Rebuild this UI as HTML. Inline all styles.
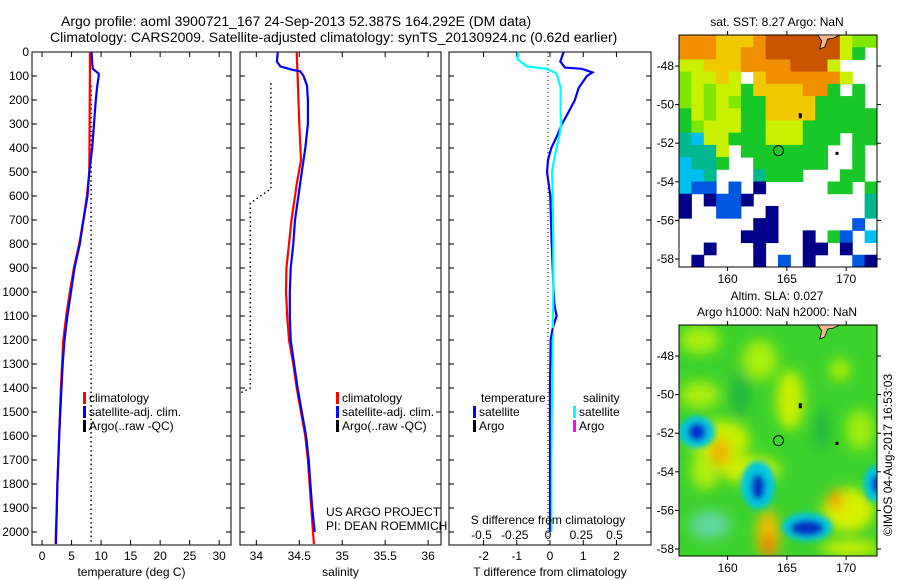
<!DOCTYPE html>
<html><head><meta charset="utf-8"><style>
html,body{margin:0;padding:0;background:#fff;}
svg{display:block;font-family:"Liberation Sans",sans-serif;}
</style></head><body>
<svg id="fig" width="900" height="580" viewBox="0 0 900 580">
<defs>
<filter id="blur6" x="-50%" y="-50%" width="200%" height="200%"><feGaussianBlur stdDeviation="6"/></filter>
<filter id="blur3" x="-50%" y="-50%" width="200%" height="200%"><feGaussianBlur stdDeviation="3"/></filter>
<clipPath id="clipSla"><rect x="679" y="325" width="198" height="231"/></clipPath>
</defs>
<text x="61" y="26" font-size="14">Argo profile: aoml 3900721_167 24-Sep-2013 52.387S 164.292E (DM data)</text>
<text x="50" y="42" font-size="14">Climatology: CARS2009. Satellite-adjusted climatology: synTS_20130924.nc (0.62d earlier)</text>
<g id="plots"></g>
</svg>
<script>
// ---------- data ----------
const depthsT = [0,100,500,600,700,800,900,1000,1100,1200,1300,1400,1500,1600,1700,1800,1900,2000,2050];
const tempClim = [8.1,8.1,8.0,7.6,7.0,6.3,5.4,4.7,4.1,3.6,3.4,3.2,3.05,2.9,2.75,2.6,2.5,2.35,2.3];
const depthsTs = [0,50,70,90,100,150,200,300,400,500,600,700,800,900,1000,1100,1200,1300,1400,1500,1600,1700,1800,1900,2000,2050];
const tempSat = [8.4,8.5,8.6,9.6,9.6,9.3,9.1,8.8,8.5,8.0,7.7,7.0,6.4,5.5,4.9,4.3,3.8,3.5,3.3,3.1,2.9,2.75,2.6,2.5,2.4,2.35];
const depthsArgoT = [140,2055];
const tempArgo = [8.3,8.3];

const depthsS = [0,100,300,450,550,600,700,800,900,1000,1100,1200,1300,1400,1500,1600,1700,1800,1900,2000,2050];
const salClim = [34.47,34.48,34.50,34.52,34.47,34.45,34.41,34.38,34.35,34.345,34.36,34.38,34.43,34.47,34.52,34.57,34.60,34.62,34.64,34.66,34.67];
const depthsSs = [0,40,60,75,80,100,140,200,300,400,500,600,700,800,900,1000,1100,1200,1300,1400,1500,1600,1700,1800,1900,2000];
const salSat = [34.25,34.24,34.28,34.43,34.51,34.55,34.59,34.60,34.60,34.57,34.53,34.49,34.45,34.43,34.40,34.39,34.39,34.40,34.44,34.48,34.53,34.58,34.61,34.63,34.65,34.68];
const depthsArgoS = [130,570,630,1400,1420];
const salArgo = [34.17,34.17,33.93,33.93,33.82];

const depthsDT = [0,40,65,70,85,100,150,200,250,300,350,400,450,500,550,600,700,800,900,1000,1050,1100,1150,1200,1400,1600,1800,2000];
const tDiffSat = [0.41,0.31,0.45,0.96,1.28,1.11,0.86,0.75,0.56,0.36,0.21,0.04,-0.06,-0.09,-0.04,0.01,0.03,0.05,0.08,0.11,0.13,0.2,0.08,0.02,0.0,0.0,0.0,0.0];
const depthsDS = [0,30,60,70,90,150,250,300,350,400,450,500,600,800,1000,1400,1700,2000];
const sDiffSat = [-0.22,-0.23,-0.16,-0.01,0.065,0.095,0.095,0.10,0.085,0.065,0.045,0.03,0.035,0.04,0.04,0.03,0.025,0.025];

const tempTicks = [0,5,10,15,20,25,30];
const salTicks = [34,34.5,35,35.5,36];
const tDiffTicks = [-2,-1,0,1,2];
const sDiffTicks = [-0.5,-0.25,0,0.25,0.5];
const depthTicks = [0,100,200,300,400,500,600,700,800,900,1000,1100,1200,1300,1400,1500,1600,1700,1800,1900,2000];
const latTicks = [-48,-50,-52,-54,-56,-58];
const lonTicks = [160,165,170];

// SST map grid (rows N->S, cols W->E)
const sstGrid = [
"oooyyyoOOOOOOYgg",
"oooyyooOOOOOOYG.",
"YYyyyooooOOOY...",
"gYYyY.yooooooY..",
"gYgYYGyyyyooG.G.",
"gYgYgGGyyyyGGGG.",
"GYgYYGGyyyyGGGGG",
"GgYYYGGYYYGGGGGG",
"tcYYGGGYYYGGG.GG",
"tttY.GGGGGGG..G.",
"cttG..GGGGGG..G.",
"cct...tGGG...GG.",
"cbb.b.d.....GG.G",
"d.dbbd.........t",
"d..bb..d.......t",
"......dd......b.",
".....ddd..d.Gb.c",
"..d...d...dd.d..",
".d....d.b.d...bd"
];
// ---------- helpers ----------
const NS='http://www.w3.org/2000/svg';
const root=document.getElementById('plots');
function mk(tag,attrs,parent){const e=document.createElementNS(NS,tag);for(const k in attrs)e.setAttribute(k,attrs[k]);(parent||root).appendChild(e);return e;}
const Y0=52, PXPER=0.24;
function yD(d){return Y0+d*PXPER;}
const BOT=545;

function panel(name,x0,x1,xMin,xMax,xTicks,xlabel,showDepth){
  const sx=v=>x0+(v-xMin)/(xMax-xMin)*(x1-x0);
  const g=mk('g',{});
  
  
  const fr=mk('rect',{x:x0,y:Y0,width:x1-x0,height:BOT-Y0,fill:'none',stroke:'#000','stroke-width':1},g);
  
  
  xTicks.forEach(v=>{
    const x=sx(v);
    mk('line',{x1:x,x2:x,y1:BOT,y2:BOT-5,stroke:'#000'},g);
    mk('line',{x1:x,x2:x,y1:Y0,y2:Y0+5,stroke:'#000'},g);
    const t=mk('text',{x:x,y:BOT+15,'font-size':12,'text-anchor':'middle'},g);
    t.textContent=String(v);
    
    
  });
  depthTicks.forEach(d=>{
    const y=yD(d);
    mk('line',{x1:x0,x2:x0+5,y1:y,y2:y,stroke:'#000'},g);
    mk('line',{x1:x1,x2:x1-5,y1:y,y2:y,stroke:'#000'},g);
    if(showDepth){
      const t=mk('text',{x:x0-3,y:y+4,'font-size':12,'text-anchor':'end'},g);
      t.textContent=String(d);
      
      
    }
  });
  if(xlabel){
    const t=mk('text',{x:(x0+x1)/2,y:576,'font-size':12,'text-anchor':'middle'},g);
    t.textContent=xlabel;
    
    
  }
  return {g,sx};
}
function line(p,name,xs,ds,color,dash,w){
  const pts=xs.map((v,i)=>p.sx(v).toFixed(1)+','+yD(ds[i]).toFixed(1)).join(' ');
  const a={points:pts,fill:'none',stroke:color,'stroke-width':w||2.2};
  if(dash)a['stroke-dasharray']=dash;
  const e=mk('polyline',a,p.g);
  
  
}
function legendEntry(g,x,y,color,label,name){
  mk('rect',{x:x,y:y-10,width:3,height:12,fill:color},g);
  const t=mk('text',{x:x+6,y:y,'font-size':12},g);
  t.textContent=label;
  
  
}
// ---------- temperature ----------
const pT=panel('temperature-panel',32,231,-1.7,32,tempTicks,'temperature (deg C)',true);
line(pT,'temp-argo-line',tempArgo,depthsArgoT,'#000','1.5 3',1.5);
line(pT,'temp-climatology-line',tempClim,depthsT,'#f00');
line(pT,'temp-satellite-line',tempSat,depthsTs,'#00f');
legendEntry(pT.g,83,402,'#f00','climatology','legend-climatology');
legendEntry(pT.g,83,416,'#00f','satellite-adj. clim.','legend-satellite');
legendEntry(pT.g,83,430,'#000','Argo(..raw -QC)','legend-argo');
// ---------- salinity ----------
const pS=panel('salinity-panel',240,441,33.81,36.15,salTicks,'salinity',false);
line(pS,'sal-argo-line',salArgo,depthsArgoS,'#000','1.5 3',1.5);
line(pS,'sal-climatology-line',salClim,depthsS,'#f00');
line(pS,'sal-satellite-line',salSat,depthsSs,'#00f');
legendEntry(pS.g,336,402,'#f00','climatology','legend-climatology');
legendEntry(pS.g,336,416,'#00f','satellite-adj. clim.','legend-satellite');
legendEntry(pS.g,336,430,'#000','Argo(..raw -QC)','legend-argo');
[['US ARGO PROJECT',516],['PI: DEAN ROEMMICH',530]].forEach(([s,y])=>{
  const t=mk('text',{x:326,y:y,'font-size':12},pS.g);
  t.textContent=s;
  
  
});
// ---------- difference ----------
const pD=panel('difference-panel',449,651,-3.04,3.04,tDiffTicks,'T difference from climatology',false);
const sxS=v=>548+v*133;
mk('line',{x1:548,x2:548,y1:Y0,y2:BOT,stroke:'#000','stroke-width':1,'stroke-dasharray':'1 3'},pD.g);
line(pD,'t-diff-satellite-line',tDiffSat,depthsDT,'#00f');
(function(){
  const pts=sDiffSat.map((v,i)=>sxS(v).toFixed(1)+','+yD(depthsDS[i]).toFixed(1)).join(' ');
  const e=mk('polyline',{points:pts,fill:'none',stroke:'#0ff','stroke-width':2.2},pD.g);
  
  
})();
// redraw blue on top in deep part
line(pD,'t-diff-satellite-line-top',tDiffSat.slice(22),depthsDT.slice(22),'#00f',null,1.6);
sDiffTicks.forEach(v=>{
  const t=mk('text',{x:sxS(v),y:539,'font-size':12,'text-anchor':'middle'},pD.g);
  t.textContent=String(v);
  
  
});
(function(){
  const t=mk('text',{x:548,y:524,'font-size':12,'text-anchor':'middle'},pD.g);
  t.textContent='S difference from climatology';
  
  
  const a=mk('text',{x:481,y:402,'font-size':12},pD.g);a.textContent='temperature';
  
  
  const b=mk('text',{x:583,y:402,'font-size':12},pD.g);b.textContent='salinity';
  
  
})();
legendEntry(pD.g,473,416,'#00f','satellite','legend-t-satellite');
legendEntry(pD.g,473,430,'#000','Argo','legend-t-argo');
legendEntry(pD.g,573,416,'#0ff','satellite','legend-s-satellite');
legendEntry(pD.g,573,430,'#f0f','Argo','legend-s-argo');

// ---------- maps ----------
const MX0=679,MX1=877,LON0=155.9,LON1=172.6;
const lonX=l=>MX0+(l-LON0)/(LON1-LON0)*(MX1-MX0);
function mapAxes(name,top,bot,lat48y,title){
  const g=mk('g',{});
  
  
  const latY=l=>lat48y+(-48-l)*19.3;
  latTicks.forEach(l=>{
    const y=latY(l);
    mk('line',{x1:MX0-4,x2:MX0,y1:y,y2:y,stroke:'#000'},g);
    mk('line',{x1:MX1,x2:MX1+4,y1:y,y2:y,stroke:'#000'},g);
    const t=mk('text',{x:MX0-5,y:y+4,'font-size':12,'text-anchor':'end'},g);
    t.textContent=String(l);
    
    
  });
  lonTicks.forEach(l=>{
    const x=lonX(l);
    mk('line',{x1:x,x2:x,y1:top-4,y2:top,stroke:'#000'},g);
    mk('line',{x1:x,x2:x,y1:bot,y2:bot+4,stroke:'#000'},g);
    const t=mk('text',{x:x,y:bot+16,'font-size':12,'text-anchor':'middle'},g);
    t.textContent=String(l);
    
    
  });
  const fr=mk('rect',{x:MX0,y:top,width:MX1-MX0,height:bot-top,fill:'none',stroke:'#000'},g);
  
  
  // profile location circle
  const c=mk('circle',{cx:lonX(164.292),cy:latY(-52.387),r:5,fill:'none',stroke:'#000'},g);
  
  
  // islands
  mk('rect',{x:lonX(166.0),y:latY(-50.6)-3,width:3,height:5,fill:'#000'},g);
  mk('rect',{x:lonX(169.1),y:latY(-52.5)-1,width:3,height:3,fill:'#000'},g);
  mk('path',{d:`M${lonX(167.6)} ${top} l4 6 l-2 8 l5 -2 l3 -8 l6 -1 l6 -3 z`,fill:'#f4b890',stroke:'#000','stroke-width':0.8},g);
  return {g,latY};
}
// SST map
(function(){
  const top=35,bot=267;
  const cols={O:'#c85400',o:'#f09000',y:'#f0c800',Y:'#c8f000',g:'#80e800',G:'#18c828',t:'#00b890',c:'#00c0f0',b:'#0058e0',d:'#000088'};
  const g=mk('g',{});
  
  
  const cw=(MX1-MX0)/16,ch=(bot-top)/sstGrid.length;
  sstGrid.forEach((row,r)=>{for(let c=0;c<row.length;c++){const k=row[c];if(cols[k])mk('rect',{x:MX0+c*cw,y:top+r*ch,width:cw+0.5,height:ch+0.5,fill:cols[k]},g);}});
  mapAxes('sst-map',top,bot,66,'');
  const t=mk('text',{x:777,y:26,'font-size':12,'text-anchor':'middle'});
  t.textContent='sat. SST: 8.27 Argo: NaN';
  
  
})();
// SLA map
(function(){
  const top=325,bot=556;
  const g=mk('g',{'clip-path':'url(#clipSla)'});
  
  
  mk('rect',{x:MX0,y:top,width:MX1-MX0,height:bot-top,fill:'#3cd22c'},g);
  const fg=mk('g',{filter:'url(#blur6)'},g);
  const blobs=[
    [700,340,20,14,'#a8ee10'],[760,360,18,20,'#a8ee10'],[790,400,14,30,'#c8f000'],[720,440,30,20,'#c8f000'],
    [750,470,30,14,'#d0f000'],[705,470,14,20,'#b0ee10'],[720,452,10,14,'#f0b000'],[848,510,26,22,'#d8f000'],
    [835,500,8,10,'#f0a000'],[768,535,12,25,'#f0c000'],[768,545,6,12,'#e07000'],[850,548,30,8,'#d0f000'],
    [710,525,20,14,'#60d8a0'],[740,395,10,22,'#20b840'],[822,430,8,20,'#20b840'],[860,430,14,20,'#a0ee10'],
    [700,395,20,14,'#a8ee10'],[840,370,10,10,'#b8f000']
  ];
  blobs.forEach(b=>mk('ellipse',{cx:b[0],cy:b[1],rx:b[2],ry:b[3],fill:b[4]},fg));
  const bg=mk('g',{filter:'url(#blur3)'},g);
  const blue=[
    [697,432,18,16,'#00c8e0'],[697,432,9,9,'#0030d0'],[758,485,17,24,'#00c8e0'],[758,487,7,13,'#0030c0'],
    [807,527,25,14,'#00c8e0'],[807,528,17,8,'#0030c0'],[874,484,10,18,'#00c8e0'],[876,484,5,9,'#0030d0']
  ];
  blue.forEach(b=>mk('ellipse',{cx:b[0],cy:b[1],rx:b[2],ry:b[3],fill:b[4]},bg));
  mapAxes('sla-map',top,bot,356,'');
  const t1=mk('text',{x:777,y:300,'font-size':12,'text-anchor':'middle'});
  t1.textContent='Altim. SLA: 0.027';
  
  
  const t2=mk('text',{x:777,y:316,'font-size':12,'text-anchor':'middle'});
  t2.textContent='Argo h1000: NaN h2000: NaN';
  
  
  const t3=mk('text',{x:0,y:0,'font-size':12,'text-anchor':'middle',transform:'translate(892,455) rotate(-90)'});
  t3.textContent='©IMOS 04-Aug-2017 16:53:03';
  
  
})();
</script>
</body></html>
